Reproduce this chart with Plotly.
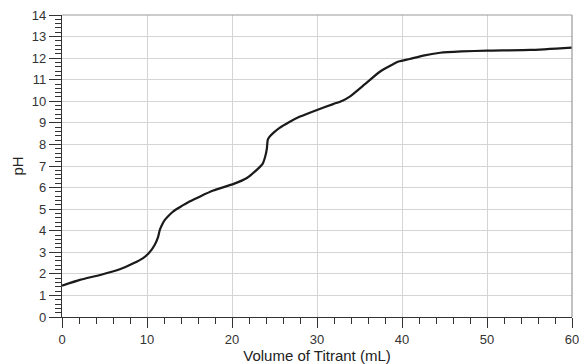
import plotly.graph_objects as go

volume_ml = [0, 2.1, 4.5, 6.8, 8.4, 9.5, 10.2, 10.9, 11.3, 11.5, 11.8, 12.1, 12.6, 13.1, 13.9, 15.0, 16.2,
             17.8, 20.2, 21.7, 23.1, 23.6, 23.9, 24.1, 24.2, 24.4, 24.9, 25.6, 26.7, 28.0, 30.0, 31.9,
             33.0, 33.9, 35.6, 37.4, 39.6, 40.9, 42.5, 44.5, 47.0, 50.0, 55.1, 60.0]
ph = [1.45, 1.72, 1.95, 2.21, 2.49, 2.72, 2.95, 3.34, 3.7, 4.03, 4.3, 4.5, 4.72, 4.9, 5.1, 5.35, 5.58,
      5.86, 6.17, 6.43, 6.89, 7.1, 7.43, 7.8, 8.2, 8.35, 8.55, 8.77, 9.03, 9.29, 9.6, 9.87,
      10.03, 10.23, 10.78, 11.37, 11.84, 11.96, 12.12, 12.25, 12.31, 12.35, 12.38, 12.49]

x_ticks = [0, 10, 20, 30, 40, 50, 60]
y_ticks = list(range(0, 15))

fig = go.Figure()
fig.add_trace(go.Scatter(x=volume_ml, y=ph, mode="lines",
                         line=dict(color="#1a1a1a", width=2.2, shape="spline", smoothing=0.5),
                         showlegend=False, hoverinfo="skip", cliponaxis=False))

font = "Liberation Sans, Arial, sans-serif"
fig.update_layout(
    width=579, height=364,
    margin=dict(l=62, r=7, t=15, b=47),
    paper_bgcolor="white", plot_bgcolor="white",
    font=dict(family=font, color="#333333", size=12),
    xaxis=dict(range=[0, 60], tickvals=x_ticks, ticks="outside", ticklen=10, tickcolor="#333333",
               showgrid=True, gridcolor="#d4d4d4", gridwidth=1, zeroline=False, automargin=False,
               showline=True, linecolor="#333333", linewidth=1.2, ticklabeloverflow="allow",
               minor=dict(dtick=2, ticks="outside", ticklen=6, tickcolor="#333333", showgrid=False),
               tickfont=dict(size=13, family=font, color="#333333"),
               title=dict(text="Volume of Titrant (mL)", font=dict(size=15, family=font, color="#222222"), standoff=0)),
    yaxis=dict(range=[0, 14], tickvals=y_ticks, ticks="outside", ticklen=12, tickcolor="#333333",
               showgrid=True, gridcolor="#d4d4d4", gridwidth=1, zeroline=False, automargin=False,
               showline=True, linecolor="#333333", linewidth=1.2, ticklabeloverflow="allow",
               minor=dict(dtick=0.2, ticks="outside", ticklen=6, tickcolor="#333333", showgrid=False),
               tickfont=dict(size=13, family=font, color="#333333"),
               title=dict(text="pH", font=dict(size=15, family=font, color="#222222"), standoff=4)),
    shapes=[
        dict(type="line", xref="paper", yref="paper", x0=0, x1=1, y0=1, y1=1, line=dict(color="#999999", width=1.2)),
        dict(type="line", xref="paper", yref="paper", x0=1, x1=1, y0=0, y1=1, line=dict(color="#999999", width=1.2)),
    ],
)

fig.write_html("out.html", config={"displayModeBar": False},
               post_script="document.body.style.margin='0';document.body.style.overflow='hidden';")
